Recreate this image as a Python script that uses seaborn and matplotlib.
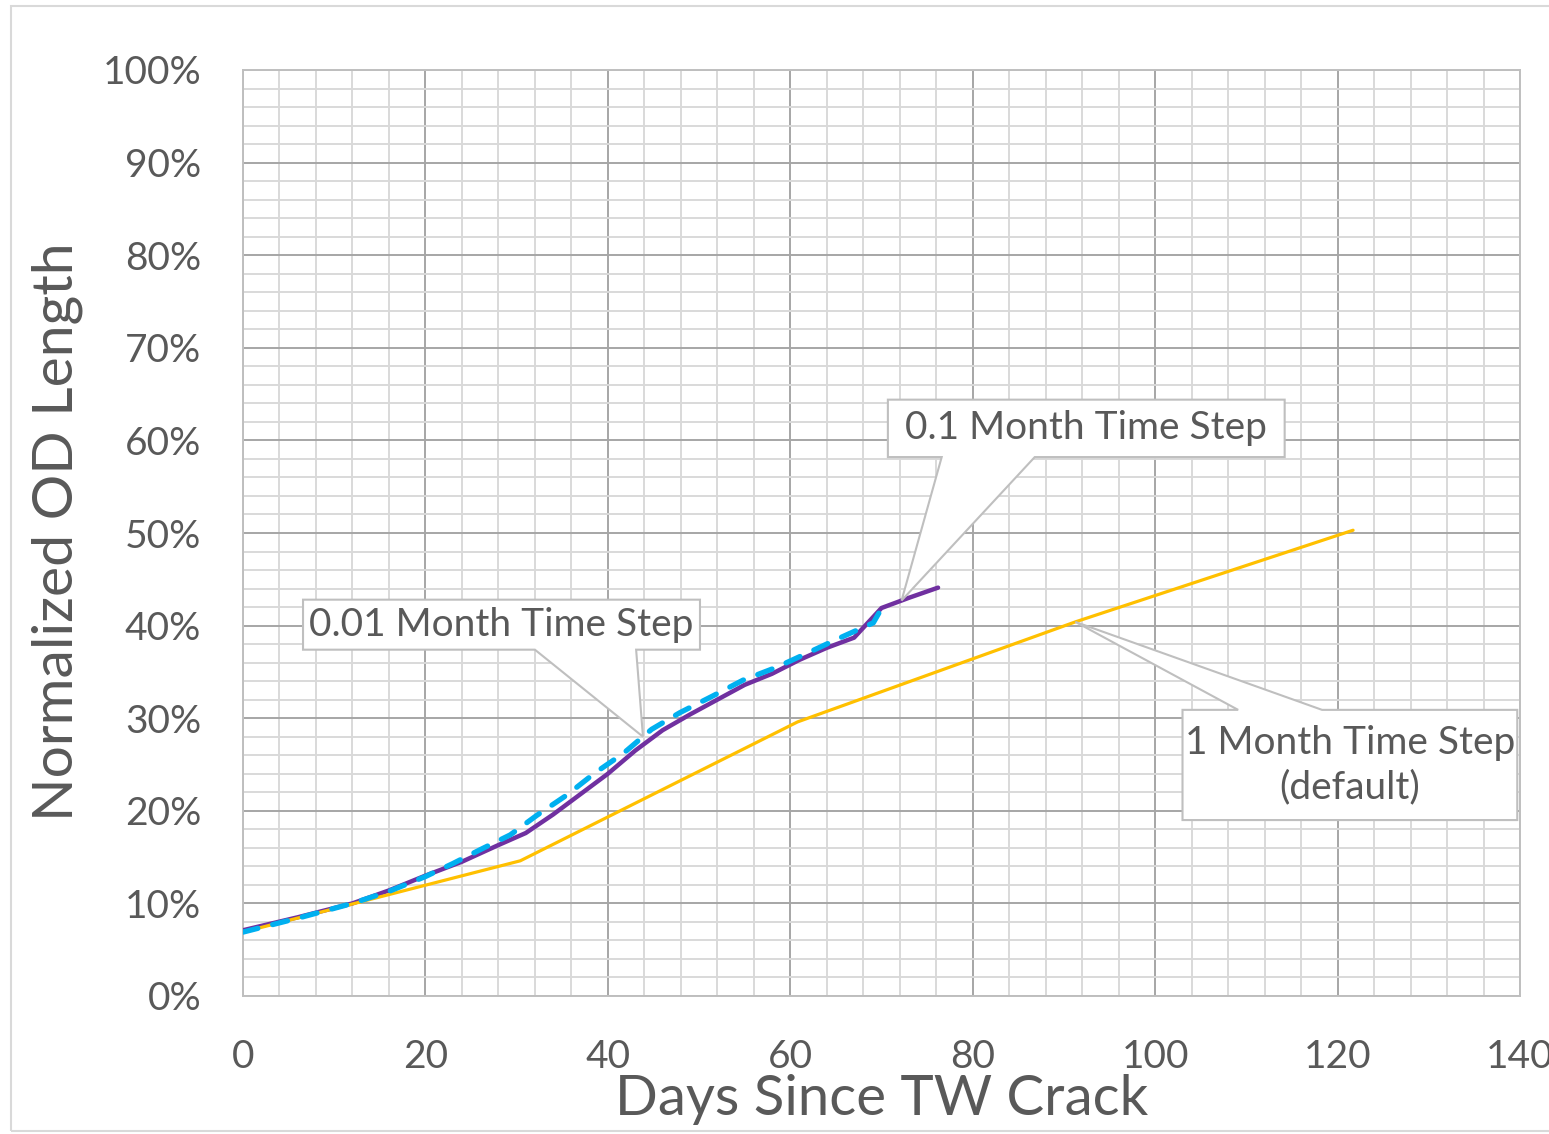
import numpy as np
import pandas as pd
import matplotlib
matplotlib.use("Agg")
import matplotlib.pyplot as plt
from matplotlib.patches import Polygon, Rectangle
from matplotlib.ticker import MultipleLocator, FuncFormatter
import seaborn as sns

# ---- data: normalized OD crack length vs. days since through-wall crack ----
# 1 month time step (default)
month_days = [0, 30.4, 60.8, 91.25, 121.7]
month_pct = [6.9, 14.6, 29.6, 40.4, 50.3]

# 0.1 month time step
tenth_days = [0, 6, 12, 16, 20, 24, 28, 31, 34, 37, 40, 43, 46, 49, 52, 55,
              58, 61, 64, 67, 70, 73, 76.2]
tenth_pct = [7.1, 8.5, 10.0, 11.4, 13.0, 14.5, 16.3, 17.6, 19.6, 21.8, 24.0,
             26.5, 28.7, 30.4, 32.0, 33.6, 34.8, 36.3, 37.6, 38.7, 41.9, 43.0,
             44.1]

# 0.01 month time step
hundredth_days = [0, 6, 12, 16, 20, 23, 26, 29.3, 32.2, 35.5, 38.6, 41.7,
                  44.8, 47.9, 51.5, 54.8, 58.5, 61.8, 65.5, 69.1, 70.5]
hundredth_pct = [6.9, 8.4, 10.0, 11.3, 12.9, 14.3, 15.8, 17.4, 19.5, 21.7,
                 24.1, 26.2, 28.8, 30.6, 32.4, 34.1, 35.5, 37.0, 38.7, 40.3,
                 42.7]

x_ticks = [0, 20, 40, 60, 80, 100, 120, 140]
y_ticks = [0, 10, 20, 30, 40, 50, 60, 70, 80, 90, 100]

sns.set_theme(style="white")
plt.rcParams["font.family"] = ["Lato", "DejaVu Sans"]

TEXT = "#595959"
PURPLE = "#7030A0"
BLUE = "#00B0F0"
GOLD = "#FFC000"

W, H = 1549, 1134
fig = plt.figure(figsize=(W / 100, H / 100), dpi=100)
ax = fig.add_axes([243 / W, 1 - 996 / H, 1277 / W, 926 / H])

# outer chart frame
fig.patches.append(Rectangle((11 / W, 3 / H), 1.05, 1 - 9 / H,
                             transform=fig.transFigure, fill=False,
                             edgecolor="#D9D9D9", lw=1.5, zorder=0))

sns.lineplot(x=tenth_days, y=tenth_pct, ax=ax, color=PURPLE, lw=3.2,
             zorder=3, solid_joinstyle="round", solid_capstyle="round")
sns.lineplot(x=month_days, y=month_pct, ax=ax, color=GOLD, lw=2.3, zorder=3)
sns.lineplot(x=hundredth_days, y=hundredth_pct, ax=ax, color=BLUE, lw=3.8,
             linestyle=(0, (2.9, 2.9)), dash_capstyle="round", zorder=4)

ax.set_xlim(0, 140)
ax.set_ylim(0, 100)
ax.xaxis.set_minor_locator(MultipleLocator(4))
ax.yaxis.set_minor_locator(MultipleLocator(2))
ax.set_xticks(x_ticks)
ax.set_yticks(y_ticks)
ax.yaxis.set_major_formatter(FuncFormatter(lambda v, p: f"{v:.0f}%"))

ax.grid(which="major", color="#A6A6A6", lw=1.4, zorder=0)
ax.grid(which="minor", color="#D9D9D9", lw=1.4, zorder=0)
ax.set_axisbelow(True)
for s in ax.spines.values():
    s.set_color("#BFBFBF")
    s.set_linewidth(1.4)

ax.tick_params(axis="both", which="both", length=0, labelsize=28,
               labelcolor=TEXT)
ax.tick_params(axis="y", pad=30)
ax.tick_params(axis="x", pad=31)

ax.set_xlabel("Days Since TW Crack", fontsize=40.6, color=TEXT)
ax.set_ylabel("Normalized OD Length", fontsize=41, color=TEXT)
ax.xaxis.set_label_coords(0.500, -0.112)
ax.xaxis.label.set_va("center")
ax.yaxis.set_label_coords(-0.1457, 0.501)
ax.yaxis.label.set_va("center")


def callout(ax, box, base, tip, text, wedge_side="bottom"):
    x0, x1, y0, y1 = box
    b0, b1 = base
    if wedge_side == "bottom":
        verts = [(x0, y1), (x1, y1), (x1, y0), (b1, y0), tip, (b0, y0),
                 (x0, y0)]
    else:
        verts = [(x0, y0), (x1, y0), (x1, y1), (b1, y1), tip, (b0, y1),
                 (x0, y1)]
    ax.add_patch(Polygon(verts, closed=True, facecolor="white",
                         edgecolor="#BFBFBF", lw=1.5, zorder=5,
                         clip_on=False))
    ax.text((x0 + x1) / 2, (y0 + y1) / 2, text, ha="center", va="center",
            fontsize=28, color=TEXT, zorder=6, linespacing=1.3)


tip_a = 43.85
callout(ax, (6.58, 50.1, 37.4, 42.8), (32.0, 43.1),
        (tip_a, np.interp(tip_a, hundredth_days, hundredth_pct)),
        "0.01 Month Time Step")
tip_b = 72.2
callout(ax, (70.7, 114.2, 58.2, 64.4), (76.6, 86.8),
        (tip_b, np.interp(tip_b, tenth_days, tenth_pct)),
        "0.1 Month Time Step")
tip_c = month_days[3]
callout(ax, (103.0, 139.7, 19.0, 30.9), (109.1, 118.3),
        (tip_c, month_pct[3]),
        "1 Month Time Step\n(default)", wedge_side="top")

fig.savefig("out.png", dpi=100)
